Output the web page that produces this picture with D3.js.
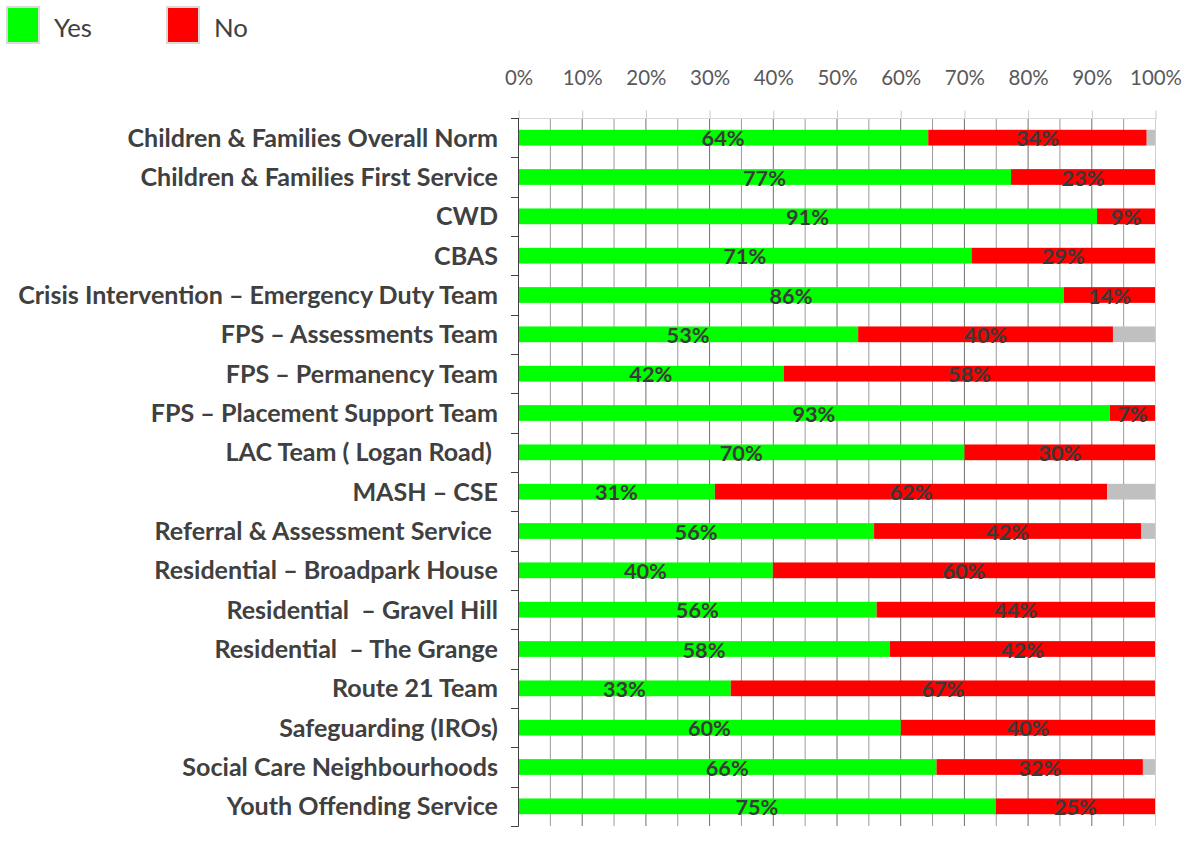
<!DOCTYPE html>
<html>
<head>
<meta charset="utf-8">
<script src="https://cdn.jsdelivr.net/npm/d3@7"></script>
<style>
  html, body { margin: 0; padding: 0; background: #fff; }
  svg { display: block; }
  .cat { white-space: pre; }
</style>
</head>
<body>
<svg id="chart" width="1187" height="850"></svg>
<script>
// ---- data ----
const categories = [
  "Children & Families Overall Norm",
  "Children & Families First Service",
  "CWD",
  "CBAS",
  "Crisis Intervention – Emergency Duty Team",
  "FPS – Assessments Team",
  "FPS – Permanency Team",
  "FPS – Placement Support Team",
  "LAC Team ( Logan Road) ",
  "MASH – CSE",
  "Referral & Assessment Service ",
  "Residential – Broadpark House",
  "Residential  – Gravel Hill",
  "Residential  – The Grange",
  "Route 21 Team",
  "Safeguarding (IROs)",
  "Social Care Neighbourhoods",
  "Youth Offending Service"
];
const yesValues = [64.4, 77.4, 90.9, 71.2, 85.7, 53.4, 41.7, 92.9, 70.1, 30.9, 55.9, 40.0, 56.3, 58.4, 33.4, 60.1, 65.7, 75.0];
const noValues  = [34.3, 22.6,  9.1, 28.8, 14.3, 40.0, 58.3,  7.1, 29.9, 61.6, 41.9, 60.0, 43.7, 41.6, 66.6, 39.9, 32.4, 25.0];
const seriesNames = ["Yes", "No"];
const seriesColors = ["#00ff00", "#ff0000"];
const otherColor = "#c0c0c0";
const tickValues = [0, 10, 20, 30, 40, 50, 60, 70, 80, 90, 100];
const gridValues = d3.range(0, 101, 5);

(function () {
// ---- layout ----
const svg = d3.select("#chart");
const pLeft = 518, pRight = 1155, pTop = 118, pBottom = 826;
const catFont = "Lato, 'Open Sans', sans-serif";

const x = d3.scaleLinear().domain([0, 100]).range([pLeft, pRight]);
const y = d3.scaleBand().domain(categories).range([pTop, pBottom]).paddingInner(0.6).paddingOuter(0.3);
const step = y.step();

const rows = categories.map((c, i) => {
  const yes = yesValues[i], no = noValues[i];
  return { cat: c, segs: [
    { key: "Yes", x0: 0, x1: yes, v: yes, color: seriesColors[0], label: true },
    { key: "No", x0: yes, x1: yes + no, v: no, color: seriesColors[1], label: true },
    { key: "Other", x0: yes + no, x1: 100, v: 100 - yes - no, color: otherColor, label: false }
  ]};
});

function fitSize(text, family, weight, target) {
  const t = svg.append("text").attr("font-family", family).attr("font-weight", weight)
    .attr("font-size", 100).style("white-space", "pre").text(text);
  const w = t.node().getComputedTextLength();
  t.remove();
  return 100 * target / w;
}

// ---- gridlines ----
svg.append("g").selectAll("line").data(gridValues).join("line")
  .attr("x1", d => x(d) + 0.5).attr("x2", d => x(d) + 0.5)
  .attr("y1", pTop).attr("y2", pBottom)
  .attr("stroke", d => d === 100 ? "#d0d0d0" : (d % 10 === 0 ? "#6e6e6e" : "#9a9a9a"))
  .attr("stroke-width", 1);

// top axis
const topAxis = d3.axisTop(x).tickValues(tickValues).tickSize(8).tickFormat(d => d + "%");
const gTop = svg.append("g").attr("transform", `translate(0.5,${pTop + 0.5})`).call(topAxis);
gTop.select(".domain").attr("stroke", "#d9d9d9").attr("d", `M${pLeft},0H${pRight}`);
gTop.selectAll(".tick line").attr("stroke", "#c8c8c8");
const tickSize = fitSize("100%", catFont, 400, 52);
gTop.selectAll(".tick text")
  .attr("font-family", catFont).attr("font-size", tickSize).attr("font-weight", 400)
  .attr("fill", "#595959").attr("y", 0).attr("dy", 0)
  .attr("transform", `translate(0,${85 - pTop - 0.5})`);

// ---- bars ----
const gRows = svg.append("g").selectAll("g").data(rows).join("g")
  .attr("transform", d => `translate(0,${y(d.cat)})`);
gRows.selectAll("rect").data(d => d.segs).join("rect")
  .attr("x", d => x(d.x0)).attr("width", d => Math.max(0, x(d.x1) - x(d.x0)))
  .attr("y", 0).attr("height", y.bandwidth())
  .attr("fill", d => d.color);

// ---- left axis ----
const gLeft = svg.append("g");
gLeft.append("line").attr("x1", pLeft + 0.5).attr("x2", pLeft + 0.5).attr("y1", pTop).attr("y2", pBottom + 0.5)
  .attr("stroke", "#404040").attr("stroke-width", 1);
gLeft.selectAll("line.tk").data(d3.range(categories.length + 1)).join("line").attr("class", "tk")
  .attr("x1", pLeft - 7).attr("x2", pLeft + 0.5)
  .attr("y1", i => Math.round(pTop + i * step) + 0.5).attr("y2", i => Math.round(pTop + i * step) + 0.5)
  .attr("stroke", "#404040").attr("stroke-width", 1);

// category labels
const catSize = fitSize("Crisis Intervention – Emergency Duty Team", catFont, 700, 480);
svg.append("g").selectAll("text").data(categories).join("text")
  .attr("class", "cat")
  .attr("x", 498).attr("y", d => y(d) + y.bandwidth() / 2 + catSize * 0.36)
  .attr("text-anchor", "end")
  .attr("font-family", catFont).attr("font-weight", 700).attr("font-size", catSize)
  .attr("fill", "#404040")
  .text(d => d);

// value labels
const valSize = fitSize("64%", catFont, 700, 43);
gRows.selectAll("text").data(d => d.segs.filter(s => s.label)).join("text")
  .attr("x", d => x((d.x0 + d.x1) / 2))
  .attr("y", y.bandwidth() / 2 + valSize * 0.36 + 1)
  .attr("text-anchor", "middle")
  .attr("font-family", catFont).attr("font-weight", 700).attr("font-size", valSize)
  .attr("fill", "#3a3a3a")
  .text(d => Math.round(d.v) + "%");

// ---- legend ----
const legSize = fitSize("Yes", catFont, 400, 38);
const leg = svg.append("g").selectAll("g").data(seriesNames).join("g")
  .attr("transform", (d, i) => `translate(${i === 0 ? 7 : 167},7)`);
leg.append("rect").attr("x", 0).attr("y", 0).attr("width", 32).attr("height", 36)
  .attr("fill", (d, i) => seriesColors[i]).attr("stroke", "#d9d9d9").attr("stroke-width", 2);
leg.append("text").attr("x", 47).attr("y", 30)
  .attr("font-family", catFont).attr("font-size", legSize).attr("fill", "#404040")
  .text(d => d);
})();
</script>
</body>
</html>
